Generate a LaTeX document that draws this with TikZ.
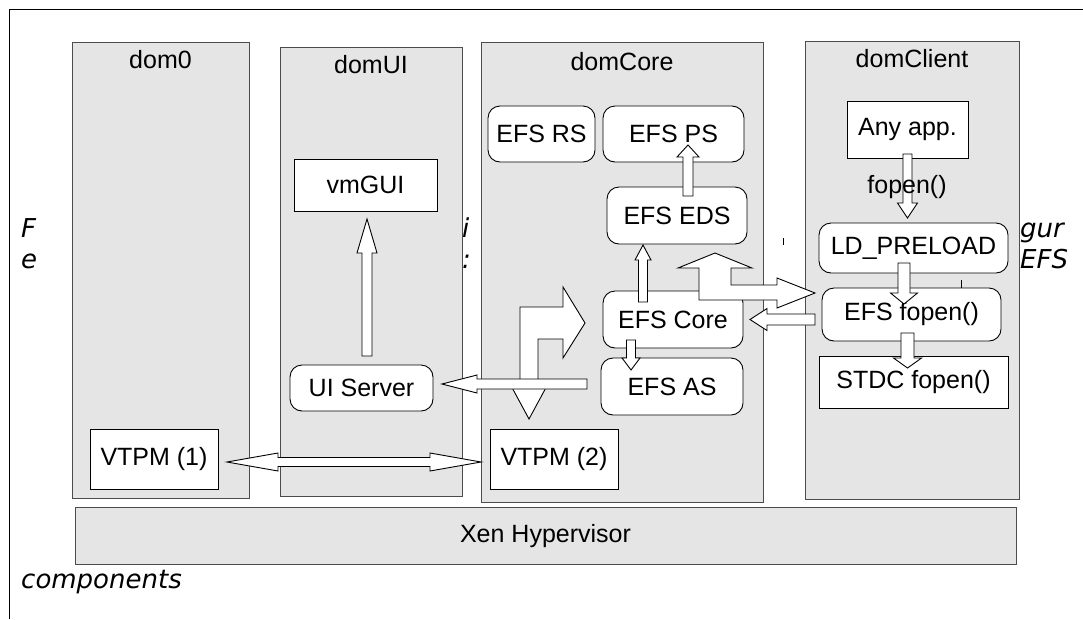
\documentclass[tikz,border=0pt]{standalone}
\usepackage{fontspec}
\setmainfont{Liberation Sans}
\newfontfamily\capfont{DejaVu Sans}
\usetikzlibrary{calc}
\tikzset{
 dombox/.style={draw=black!70, fill=gray!20, line width=1pt, inner sep=0pt},
 ibox/.style={draw=black, fill=white, line width=0.9pt, font=\fontsize{25}{30}\selectfont, inner sep=0pt},
 rbox/.style={ibox, rounded corners=12pt},
 lbl/.style={font=\fontsize{25}{30}\selectfont, anchor=base, inner sep=0pt},
 captext/.style={font=\capfont\itshape\fontsize{26}{30}\selectfont, anchor=base west, inner sep=0pt},
 blk/.style={draw=black, fill=white, line width=0.9pt, line join=miter},
 tickline/.style={draw=black, line width=0.8pt},
}
\newcommand\blockarr[5]{%
 \coordinate (bahd) at ($(#2)!#4!(#1)$);
 \draw[blk] ($(#1)!#3!90:(#2)$) -- ($(bahd)!#3!90:(#2)$) -- ($(bahd)!#5!90:(#2)$) -- (#2) -- ($(bahd)!#5!-90:(#2)$) -- ($(bahd)!#3!-90:(#2)$) -- ($(#1)!#3!-90:(#2)$) -- cycle;}
\newcommand\dblarr[5]{%
 \coordinate (dha) at ($(#1)!#4!(#2)$);
 \coordinate (dhb) at ($(#2)!#4!(#1)$);
 \draw[blk] (#1) -- ($(dha)!#5!90:(#2)$) -- ($(dha)!#3!90:(#2)$) -- ($(dhb)!#3!90:(#2)$) -- ($(dhb)!#5!90:(#2)$) -- (#2) -- ($(dhb)!#5!-90:(#2)$) -- ($(dhb)!#3!-90:(#2)$) -- ($(dha)!#3!-90:(#2)$) -- ($(dha)!#5!-90:(#2)$) -- cycle;}
\begin{document}
\begin{tikzpicture}[x=1pt,y=-1pt]
\useasboundingbox (0,0) rectangle (1083,619);
% frame
\draw[line width=1pt] (1083,9) -- (9,9) -- (9,619);

% caption fragments
\node[captext] (capF) at (21,237) {F};
\node[captext] (capE) at (21,268) {e};
\node[captext] (capI) at (462,237) {i};
\node[captext] (capC) at (462,268) {:};
\node[captext] (capG) at (1020,237) {gur};
\node[captext] (capS) at (1020,268) {EFS};
\node[captext] (capComp) at (21,588) {components};

% domains
\node[dombox, minimum width=177pt, minimum height=456pt] (dom0) at (160.5,270) {};
\node[dombox, minimum width=182pt, minimum height=449pt] (domUI) at (371,271.5) {};
\node[dombox, minimum width=282pt, minimum height=460pt] (domCore) at (622,272) {};
\node[dombox, minimum width=214pt, minimum height=458pt] (domClient) at (912,270) {};
\node[dombox, minimum width=941pt, minimum height=57pt] (xen) at (545.5,535.5) {};
\node[lbl] (l0) at (160.5,68) {dom0};
\node[lbl] (lUI) at (371,73) {domUI};
\node[lbl] (lCore) at (622,70) {domCore};
\node[lbl] (lClient) at (912,67) {domClient};
\node[font=\fontsize{25}{30}\selectfont] (lXen) at (545.5,536) {Xen Hypervisor};

% inner boxes
\node[ibox, minimum width=128pt, minimum height=60pt] (vtpm1) at (154,459) {VTPM (1)};
\node[ibox, minimum width=128pt, minimum height=60pt] (vtpm2) at (554,459) {VTPM (2)};
\node[ibox, minimum width=143pt, minimum height=52pt] (vmgui) at (365.5,185) {vmGUI};
\node[rbox, minimum width=143pt, minimum height=46pt] (uis) at (361.5,388) {UI Server};
\node[rbox, minimum width=107pt, minimum height=56pt] (rs) at (541.5,134) {EFS RS};
\node[rbox, minimum width=141pt, minimum height=56pt] (ps) at (673.5,134) {EFS PS};
\node[rbox, minimum width=140pt, minimum height=57pt] (eds) at (677,215.5) {EFS EDS};
\node[rbox, minimum width=140pt, minimum height=57pt] (core) at (673,319.5) {EFS Core};
\node[rbox, minimum width=142pt, minimum height=57pt] (as) at (672,386.5) {EFS AS};
\node[ibox, minimum width=121pt, minimum height=57pt] (anyapp) at (907.5,129.5) {Any app.};
\node[rbox, minimum width=189pt, minimum height=50pt] (ld) at (913.5,248) {LD\_PRELOAD};
\node[rbox, minimum width=179pt, minimum height=53pt] (efsf) at (911.5,314.5) {EFS fopen()};
\node[ibox, minimum width=189pt, minimum height=52pt] (stdc) at (913.5,382) {STDC fopen()};

% arrow end points
\coordinate (uiA) at (367,356);   \coordinate (uiB) at (367,219);
\coordinate (edsA) at (688,196);  \coordinate (edsB) at (688,145);
\coordinate (coA) at (643,302);   \coordinate (coB) at (643,245);
\coordinate (caA) at (631,340);   \coordinate (caB) at (631,370);
\coordinate (asA) at (587,384);   \coordinate (asB) at (442,384);
\coordinate (efA) at (815,319.5); \coordinate (efB) at (750,319.5);
\coordinate (apA) at (907.5,154); \coordinate (apB) at (907.5,218);
\coordinate (ldA) at (904,263);   \coordinate (ldB) at (904,304);
\coordinate (stA) at (907.5,333); \coordinate (stB) at (907.5,368);
\coordinate (vtA) at (227,462);   \coordinate (vtB) at (481,462);

\blockarr{uiA}{uiB}{5pt}{34pt}{10pt}
\blockarr{edsA}{edsB}{5pt}{12pt}{11pt}
\blockarr{coA}{coB}{4.5pt}{15pt}{8pt}
\blockarr{caA}{caB}{4.5pt}{12pt}{9pt}
% bent arrow in domCore (right and down)
\draw[blk] (585,323) -- (563,358) -- (563,339) -- (538,339) -- (538,382) -- (549,382) -- (529,419) -- (509,382) -- (520,382) -- (520,307) -- (563,307) -- (563,287) -- cycle;
\blockarr{asA}{asB}{5pt}{35pt}{9pt}
% bent double arrow between domCore and domClient
\draw[blk] (715,253) -- (752,268) -- (731,268) -- (731,285) -- (777,285) -- (777,278) -- (815,293) -- (777,308) -- (777,300) -- (699,300) -- (699,268) -- (678,268) -- cycle;
\blockarr{efA}{efB}{5.5pt}{17pt}{11pt}
\blockarr{apA}{apB}{4.5pt}{15pt}{10pt}
\blockarr{ldA}{ldB}{6pt}{11pt}{13.5pt}
\blockarr{stA}{stB}{6.5pt}{10pt}{14pt}
\dblarr{vtA}{vtB}{4.5pt}{51pt}{9pt}

\node[lbl] (fop) at (907,193) {fopen()};

% small ticks
\draw[tickline] (783,238) -- (783,245);
\draw[tickline] (961,280) -- (961,288);
\end{tikzpicture}
\end{document}
